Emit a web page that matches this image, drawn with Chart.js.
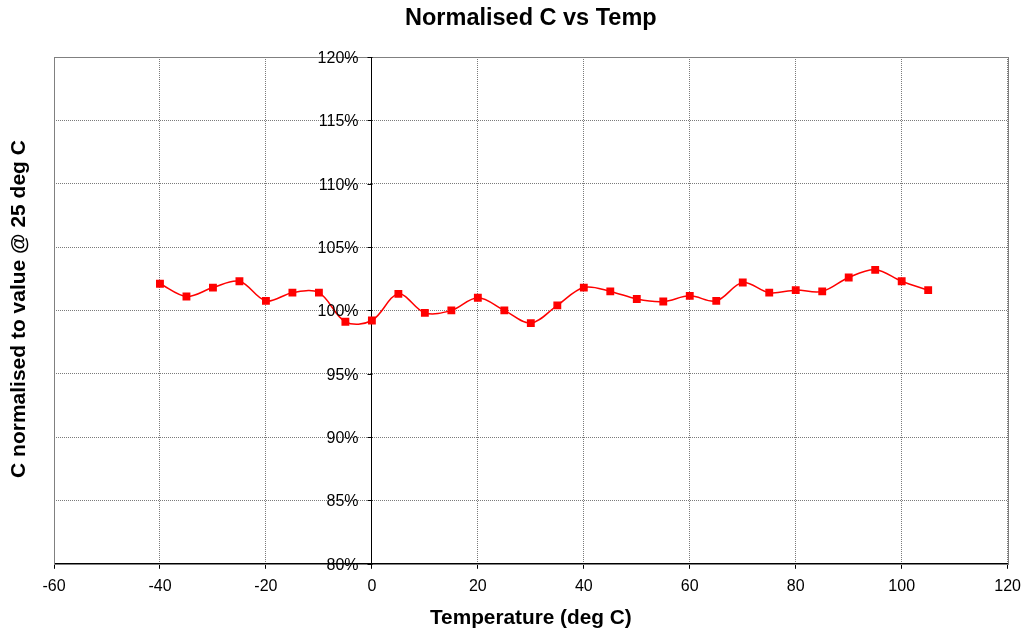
<!DOCTYPE html>
<html>
<head>
<meta charset="utf-8">
<script src="https://cdn.jsdelivr.net/npm/chart.js@4/dist/chart.umd.min.js"></script>
<style>
html,body{margin:0;padding:0;background:#fff;}
#wrap{width:1029px;height:634px;position:relative;}
</style>
</head>
<body>
<div id="wrap"><canvas id="c" width="1029" height="634"></canvas></div>
<script>
const temperatures = [-40,-35,-30,-25,-20,-15,-10,-5,0,5,10,15,20,25,30,35,40,45,50,55,60,65,70,75,80,85,90,95,100,105];
const normalisedC = [102.1,101.1,101.8,102.3,100.75,101.4,101.4,99.1,99.2,101.3,99.8,100.0,101.0,100.0,99.0,100.4,101.8,101.5,100.9,100.7,101.15,100.75,102.2,101.4,101.6,101.5,102.6,103.2,102.3,101.6];
const xTicks = [-60,-40,-20,0,20,40,60,80,100,120];
const yTicks = [80,85,90,95,100,105,110,115,120];
const chartTitle = "Normalised C vs Temp";
const xTitle = "Temperature (deg C)";
const yTitle = "C normalised to value @ 25 deg C";

const FONT = "'Liberation Sans', Arial, sans-serif";

const titlesPlugin = {
  id: 'titles',
  beforeDraw(chart) {
    const {ctx} = chart;
    ctx.save();
    ctx.fillStyle = '#fff';
    ctx.fillRect(0, 0, chart.width, chart.height);
    ctx.restore();
  },
  beforeDatasetsDraw(chart) {
    const {ctx, chartArea: a} = chart;
    ctx.save();
    ctx.strokeStyle = '#808080';
    ctx.lineWidth = 1;
    ctx.strokeRect(Math.round(a.left) + 0.5, Math.round(a.top) + 0.5, Math.round(a.right - a.left), Math.round(a.bottom - a.top));
    ctx.restore();
  },
  afterDraw(chart) {
    const {ctx, chartArea: a, scales} = chart;
    const xs = scales.x, ys = scales.y;
    const x0 = Math.round(xs.getPixelForValue(0)) + 0.5;
    ctx.save();
    // y tick marks and labels at x = 0
    ctx.strokeStyle = '#000';
    ctx.lineWidth = 1;
    ctx.fillStyle = '#000';
    ctx.font = "16px " + FONT;
    ctx.textAlign = 'right';
    ctx.textBaseline = 'middle';
    yTicks.forEach(v => {
      const py = Math.round(ys.getPixelForValue(v)) + 0.5;
      ctx.beginPath();
      ctx.moveTo(x0 - 5, py);
      ctx.lineTo(x0, py);
      ctx.stroke();
      ctx.fillText(v + '%', x0 - 14, py + 1);
    });
    // titles
    ctx.textAlign = 'center';
    ctx.font = "bold 23.5px " + FONT;
    ctx.fillText(chartTitle, (a.left + a.right) / 2, 19);
    ctx.font = "bold 20.8px " + FONT;
    ctx.fillText(xTitle, (a.left + a.right) / 2, 618);
    ctx.font = "bold 21px " + FONT;
    ctx.translate(19, 309);
    ctx.rotate(-Math.PI / 2);
    ctx.fillText(yTitle, 0, 0);
    ctx.restore();
  }
};

new Chart(document.getElementById('c'), {
  type: 'line',
  data: {
    datasets: [{
      data: temperatures.map((t, i) => ({x: t, y: normalisedC[i]})),
      borderColor: '#ff0000',
      backgroundColor: '#ff0000',
      borderWidth: 1.5,
      pointStyle: 'rect',
      pointRadius: 4.5,
      pointHoverRadius: 4.5,
      tension: 0.35,
      fill: false
    }]
  },
  options: {
    responsive: false,
    animation: false,
    events: [],
    layout: {padding: {left: 54, right: 19, top: 57, bottom: 30}},
    plugins: {legend: {display: false}, tooltip: {enabled: false}, title: {display: false}},
    scales: {
      x: {
        type: 'linear',
        min: -60, max: 120,
        afterBuildTicks(s) { s.ticks = xTicks.map(v => ({value: v})); },
        grid: {color: '#7a7a7a', tickColor: '#000', tickLength: 5, lineWidth: 1},
        border: {display: true, color: '#000', width: 1, dash: [1, 1]},
        ticks: {color: '#000', font: {family: FONT, size: 16}, padding: 8, maxRotation: 0}
      },
      y: {
        type: 'linear',
        position: {x: 0},
        min: 80, max: 120,
        afterBuildTicks(s) { s.ticks = yTicks.map(v => ({value: v})); },
        grid: {color: '#7a7a7a', drawTicks: false, lineWidth: 1},
        border: {display: true, color: '#000', width: 1, dash: [1, 1]},
        ticks: {display: false}
      }
    }
  },
  plugins: [titlesPlugin]
});
</script>
</body>
</html>
